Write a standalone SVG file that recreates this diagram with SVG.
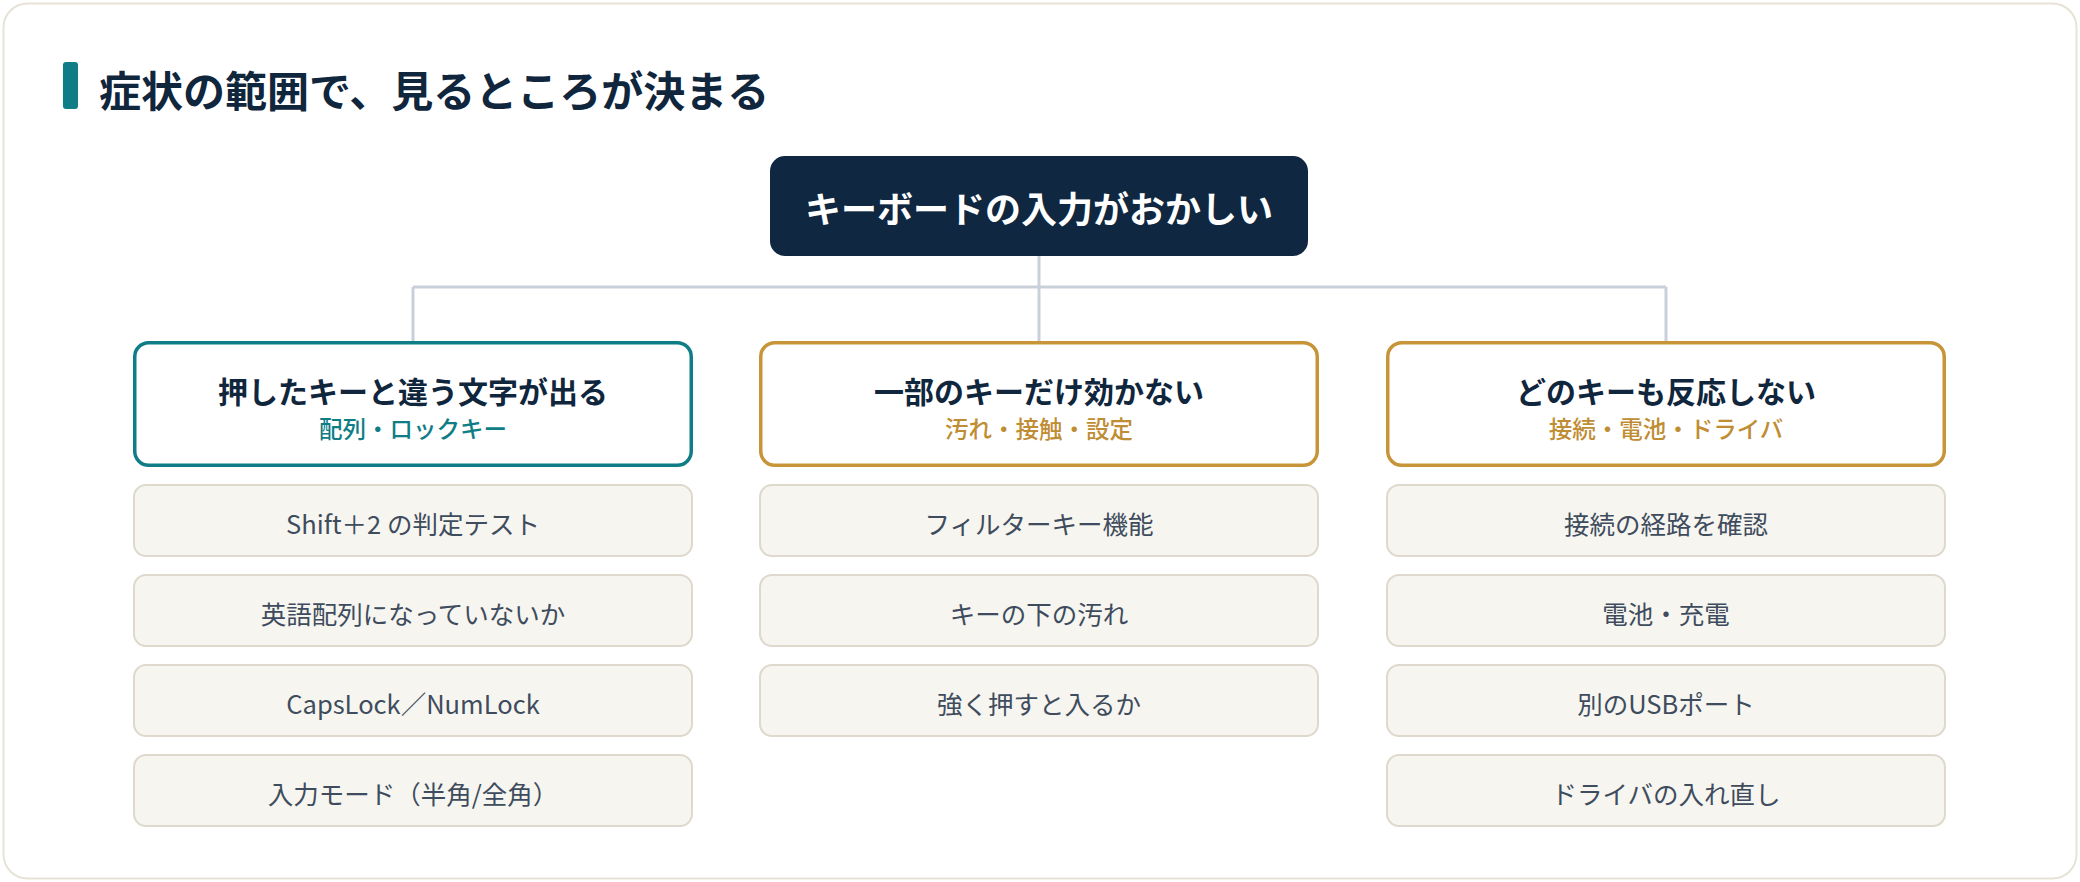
<svg xmlns="http://www.w3.org/2000/svg" width="2080" height="882" viewBox="0 0 2080 882">
<style>
text{font-family:"Noto Sans CJK JP","Noto Sans",sans-serif;text-anchor:middle;dominant-baseline:central}
.title{font-size:42px;font-weight:700;fill:#10263d;text-anchor:start}
.root-text{font-size:36px;font-weight:700;fill:#ffffff}
.cat{fill:#ffffff;stroke-width:3.5}
.cat-teal{stroke:#0f7d86}
.cat-gold{stroke:#c79438}
.cat-title{font-size:30px;font-weight:700;fill:#10263d}
.sub{font-size:23.5px;font-weight:500}
.sub-teal{fill:#0f7d86}
.sub-gold{fill:#bf8d33}
.leaf rect{fill:#f6f5f0;stroke:#deD9cc;stroke-width:2}
.leaf text{font-size:25.5px;font-weight:400;fill:#3e4c5d}
.conn{fill:none;stroke:#c9d0da;stroke-width:3}
</style>
<rect x="3.5" y="3.5" width="2073" height="875" rx="24" fill="#ffffff" stroke="#e6e3d6" stroke-width="2"/>
<g id="heading">
<rect x="63" y="62" width="15" height="47" rx="3" fill="#0f7d86"/>
<text class="title" x="99" y="88">症状の範囲で、見るところが決まる</text>
</g>
<g id="connectors">
<path class="conn" d="M1039 256V341M413 287H1666M413 287V341M1666 287V341"/>
</g>
<g id="root">
<rect x="770" y="156" width="538" height="100" rx="15" fill="#0f2740"/>
<text class="root-text" x="1039" y="207">キーボードの入力がおかしい</text>
</g>
<g id="cat1">
<rect class="cat cat-teal" x="134.75" y="342.75" width="556.5" height="122.5" rx="14"/>
<text class="cat-title" x="413" y="390">押したキーと違う文字が出る</text>
<text class="sub sub-teal" x="413" y="428">配列・ロックキー</text>
</g>
<g id="cat2">
<rect class="cat cat-gold" x="760.75" y="342.75" width="556.5" height="122.5" rx="14"/>
<text class="cat-title" x="1039" y="390">一部のキーだけ効かない</text>
<text class="sub sub-gold" x="1039" y="428">汚れ・接触・設定</text>
</g>
<g id="cat3">
<rect class="cat cat-gold" x="1387.75" y="342.75" width="556.5" height="122.5" rx="14"/>
<text class="cat-title" x="1666" y="390">どのキーも反応しない</text>
<text class="sub sub-gold" x="1666" y="428">接続・電池・ドライバ</text>
</g>
<g id="leaf1-1" class="leaf"><rect x="134" y="485" width="558" height="71" rx="12"/><text x="413" y="522">Shift＋2 の判定テスト</text></g>
<g id="leaf1-2" class="leaf"><rect x="134" y="575" width="558" height="71" rx="12"/><text x="413" y="612">英語配列になっていないか</text></g>
<g id="leaf1-3" class="leaf"><rect x="134" y="665" width="558" height="71" rx="12"/><text x="413" y="702">CapsLock／NumLock</text></g>
<g id="leaf1-4" class="leaf"><rect x="134" y="755" width="558" height="71" rx="12"/><text x="413" y="792">入力モード（半角/全角）</text></g>
<g id="leaf2-1" class="leaf"><rect x="760" y="485" width="558" height="71" rx="12"/><text x="1039" y="522">フィルターキー機能</text></g>
<g id="leaf2-2" class="leaf"><rect x="760" y="575" width="558" height="71" rx="12"/><text x="1039" y="612">キーの下の汚れ</text></g>
<g id="leaf2-3" class="leaf"><rect x="760" y="665" width="558" height="71" rx="12"/><text x="1039" y="702">強く押すと入るか</text></g>
<g id="leaf3-1" class="leaf"><rect x="1387" y="485" width="558" height="71" rx="12"/><text x="1666" y="522">接続の経路を確認</text></g>
<g id="leaf3-2" class="leaf"><rect x="1387" y="575" width="558" height="71" rx="12"/><text x="1666" y="612">電池・充電</text></g>
<g id="leaf3-3" class="leaf"><rect x="1387" y="665" width="558" height="71" rx="12"/><text x="1666" y="702">別のUSBポート</text></g>
<g id="leaf3-4" class="leaf"><rect x="1387" y="755" width="558" height="71" rx="12"/><text x="1666" y="792">ドライバの入れ直し</text></g>
</svg>
